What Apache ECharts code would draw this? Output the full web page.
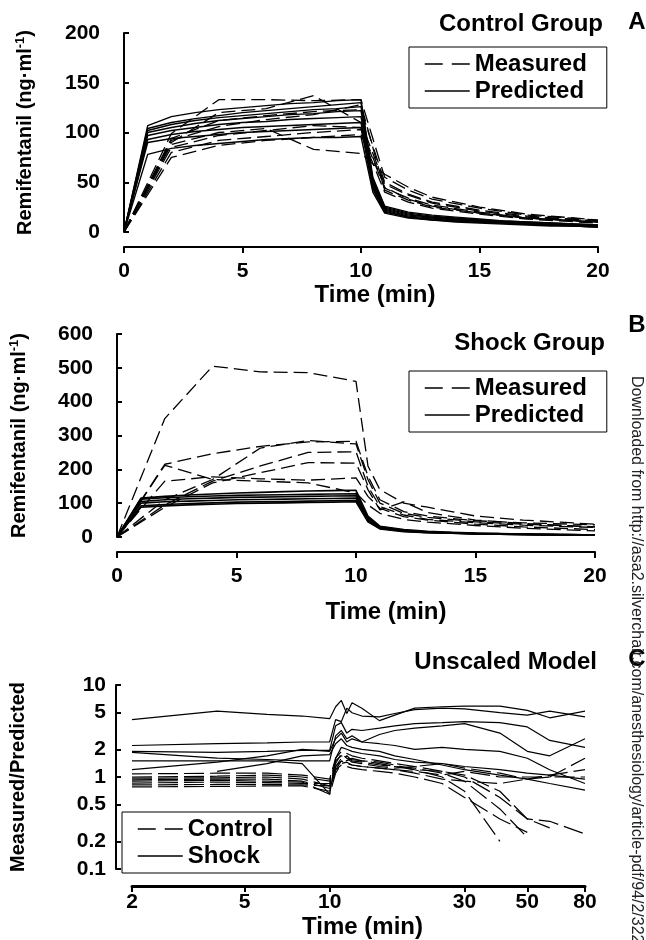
<!DOCTYPE html>
<html>
<head>
<meta charset="utf-8">
<script src="https://cdn.jsdelivr.net/npm/echarts@6/dist/echarts.min.js"></script>
<style>
  html, body { margin: 0; padding: 0; background: #fff; }
  #chart { width: 646px; height: 940px; }
</style>
</head>
<body>
<div id="chart"></div>
<script>
// ---------- Panel A: control group, remifentanil concentration (ng/ml) ----------
const timeMeasuredA = [0, 2, 4, 6, 8, 10, 11, 12, 13, 15, 17, 20];
const measuredA = [
  [0, 99, 133, 133, 132, 133, 55, 42, 33, 24, 17, 12],
  [0, 90, 120, 124, 137, 110, 48, 37, 29, 21, 15, 11],
  [0, 88, 100, 104, 83, 79, 58, 45, 35, 25, 18, 12],
  [0, 85, 97, 102, 107, 105, 45, 33, 26, 19, 14, 10],
  [0, 80, 92, 96, 100, 103, 44, 34, 27, 20, 14, 10],
  [0, 94, 112, 117, 121, 123, 50, 38, 30, 22, 16, 11],
  [0, 75, 87, 92, 95, 98, 40, 30, 24, 18, 13, 9],
  [0, 92, 106, 113, 118, 128, 42, 32, 25, 19, 14, 10]
];
const timePredicted = [0, 1, 2, 3, 4, 5, 6, 7, 8, 9, 10, 10.5, 11, 12, 13, 14, 15, 16, 17, 18, 19, 20];
const predictedA = [
  [0, 107, 116, 120, 123, 125, 127, 129, 130, 132, 133, 55, 26, 20, 17, 15, 13, 11, 10, 9, 8, 7],
  [0, 104, 110, 114, 117, 120, 122, 124, 126, 128, 130, 53, 25, 19, 16, 14, 12, 11, 10, 9, 8, 7],
  [0, 102, 108, 112, 115, 117, 119, 121, 123, 124, 126, 51, 24, 18, 15, 13, 12, 10, 9, 8, 7, 6],
  [0, 100, 105, 109, 112, 114, 116, 118, 119, 121, 122, 49, 23, 17, 15, 13, 11, 10, 9, 8, 7, 6],
  [0, 97, 102, 105, 108, 110, 111, 113, 114, 115, 116, 47, 22, 16, 14, 12, 11, 9, 8, 7, 7, 6],
  [0, 93, 98, 101, 103, 105, 106, 107, 108, 109, 110, 45, 21, 15, 13, 11, 10, 9, 8, 7, 6, 5],
  [0, 90, 94, 96, 98, 100, 101, 102, 103, 104, 105, 43, 20, 15, 12, 11, 10, 9, 8, 7, 6, 5],
  [0, 78, 84, 87, 89, 91, 93, 94, 95, 95, 96, 40, 19, 14, 12, 10, 9, 8, 7, 6, 6, 5]
];

// ---------- Panel B: shock group ----------
const timeMeasuredB = [0, 2, 4, 6, 8, 10, 10.5, 11, 12, 13, 15, 17, 20];
const measuredB = [
  [0, 350, 505, 488, 486, 460, 210, 140, 100, 88, 62, 50, 38],
  [0, 215, 246, 268, 281, 283, 180, 110, 75, 62, 48, 42, 36],
  [0, 110, 170, 263, 285, 275, 170, 100, 70, 58, 45, 38, 30],
  [0, 95, 165, 210, 250, 252, 150, 90, 65, 52, 42, 35, 28],
  [0, 212, 170, 165, 160, 130, 95, 70, 52, 44, 34, 26, 18],
  [0, 165, 178, 172, 168, 175, 120, 85, 60, 50, 38, 30, 22],
  [0, 88, 160, 190, 220, 218, 140, 80, 104, 72, 50, 40, 30]
];
const predictedB = [
  [0, 115, 120, 124, 127, 130, 132, 134, 136, 137, 138, 62, 32, 22, 17, 14, 12, 10, 9, 8, 7, 6],
  [0, 112, 116, 119, 121, 123, 124, 125, 126, 127, 128, 57, 30, 20, 15, 13, 11, 10, 9, 8, 7, 6],
  [0, 105, 110, 113, 115, 117, 118, 119, 120, 121, 122, 54, 28, 19, 15, 12, 10, 9, 8, 7, 6, 5],
  [0, 100, 104, 106, 108, 110, 111, 112, 113, 114, 115, 50, 26, 18, 14, 12, 10, 9, 8, 7, 6, 5],
  [0, 92, 96, 99, 101, 103, 104, 105, 106, 107, 108, 47, 25, 17, 13, 11, 9, 8, 7, 6, 6, 5],
  [0, 88, 92, 95, 97, 99, 100, 101, 102, 103, 104, 45, 24, 16, 13, 11, 9, 8, 7, 6, 5, 5]
];

// ---------- Panel C: measured / predicted ratio, unscaled model ----------
const timeRatio = [2, 4, 6, 8, 10, 10.5, 11, 11.5, 12, 13, 15, 17, 20, 25, 30, 40, 50, 60, 80];
const ratioControl = [
  [1.08, 1.1, 1.1, 1.05, 0.95, 1.6, 1.9, 1.8, 1.7, 1.6, 1.5, 1.4, 1.3, 1.15, 1.0, 0.6, 0.35, 0.33, 0.24],
  [1.0, 1.02, 1.05, 1.0, 0.9, 1.5, 1.7, 1.6, 1.55, 1.5, 1.45, 1.35, 1.2, 1.0, 0.7, 0.2, null, null, null],
  [0.97, 0.98, 1.0, 0.95, 0.8, 1.3, 1.6, 1.5, 1.6, 1.5, 1.4, 1.3, 1.25, 1.1, 0.9, 0.45, 0.22, null, null],
  [0.93, 0.95, 0.95, 0.9, 0.75, 1.2, 1.5, 1.7, 1.5, 1.45, 1.35, 1.3, 1.2, 1.15, 1.05, 0.7, 0.35, 0.28, null],
  [0.9, 0.92, 0.9, 0.88, 0.65, 1.1, 1.4, 1.45, 1.35, 1.3, 1.25, 1.2, 1.15, 1.05, 1.15, 1.0, 1.0, 1.0, 1.6],
  [0.86, 0.88, 0.87, 0.85, 0.85, 1.4, 1.8, 1.6, 1.45, 1.4, 1.3, 1.25, 1.3, 1.4, 1.25, 1.1, 0.95, 1.05, 1.2],
  [0.82, 0.83, 0.83, 0.82, 0.8, 1.3, 1.5, 1.4, 1.35, 1.3, 1.25, 1.2, 1.1, 0.95, 0.9, 0.85, 0.95, 1.0, 1.0],
  [0.78, 0.79, 0.8, 0.8, 0.7, 1.2, 1.35, 1.3, 1.25, 1.2, 1.15, 1.1, 1.0, 0.85, 0.6, 0.35, 0.25, null, null]
];
const ratioShock = [
  [4.2, 5.2, 4.8, 4.6, 4.3, 5.8, 6.8, 4.9, 6.4, 5.6, 4.1, 4.7, 5.6, 5.8, 5.9, 5.9, 5.3, 4.4, 5.2],
  [2.2, 2.3, 2.35, 2.4, 2.4, 4.2, 4.0, 5.6, 5.0, 4.6, 4.5, 4.9, 5.4, 5.6, 5.5, 5.0, 4.7, 5.2, 4.5],
  [1.9, 1.85, 1.9, 1.95, 1.95, 3.6, 3.9, 3.0, 3.3, 3.2, 3.4, 3.6, 3.8, 3.9, 4.0, 3.9, 3.5, 2.5, 2.1],
  [1.85, 1.6, 1.55, 1.5, 1.5, 2.8, 3.2, 2.6, 2.8, 2.4, 2.9, 3.2, 3.4, 3.6, 3.8, 3.0, 1.9, 1.7, 2.6],
  [1.2, 1.45, 1.7, 2.0, 1.9, 2.6, 3.0, 2.4, 2.6, 2.4, 2.3, 2.2, 2.0, 2.1, 2.0, 1.9, 1.6, 1.2, 0.85],
  [1.5, 1.5, 1.5, 1.4, 0.65, 1.6, 2.1, 2.0, 1.9, 1.8, 1.7, 1.55, 1.45, 1.4, 1.3, 1.2, 1.1, 1.05, 0.95],
  [null, 1.15, 1.4, 1.7, 1.75, 2.3, 2.6, 2.2, 2.1, 2.0, 1.9, 1.7, 1.55, 1.35, 1.2, 1.05, 0.95, 0.85, 0.72]
];

// Axis tick values
const ticksTime = [0, 5, 10, 15, 20];
const ticksRatio = [0.1, 0.2, 0.5, 1, 2, 5, 10];
const ticksRatioTime = [2, 5, 10, 30, 50, 80];

const FONT = '"Liberation Sans", Arial, Helvetica, sans-serif';
const INK = '#000';

function pairs(times, values) {
  return times.map((t, i) => [t, values[i] == null ? null : values[i]]);
}

function lineSeries(name, times, values, axisIdx, dashed, width) {
  return {
    type: 'line',
    name: name,
    xAxisIndex: axisIdx,
    yAxisIndex: axisIdx,
    data: pairs(times, values),
    symbol: 'none',
    showSymbol: false,
    connectNulls: false,
    silent: true,
    color: INK,
    itemStyle: { color: INK },
    lineStyle: { color: INK, width: width, type: dashed ? dashed : 'solid' },
    z: dashed ? 3 : 2
  };
}

const series = [];
measuredA.forEach(v => series.push(lineSeries('Measured', timeMeasuredA, v, 0, [14, 6], 1.3)));
predictedA.forEach(v => series.push(lineSeries('Predicted', timePredicted, v, 0, null, 1.4)));
measuredB.forEach(v => series.push(lineSeries('Measured', timeMeasuredB, v, 1, [14, 6], 1.3)));
predictedB.forEach(v => series.push(lineSeries('Predicted', timePredicted, v, 1, null, 1.6)));
ratioControl.forEach(v => series.push(lineSeries('Control', timeRatio, v, 2, [20, 6], 1.2)));
ratioShock.forEach(v => series.push(lineSeries('Shock', timeRatio, v, 2, null, 1.2)));

const tickLabel = { color: INK, fontFamily: FONT, fontWeight: 'bold', fontSize: 21 };
const axisNameStyle = {
  color: INK, fontFamily: FONT, fontWeight: 'bold', fontSize: 24
};
const yNameStyle = {
  color: INK, fontFamily: FONT, fontWeight: 'bold', fontSize: 20,
  rich: {
    sup: { color: INK, fontFamily: FONT, fontWeight: 'bold', fontSize: 13, padding: [0, 0, 9, 0] }
  }
};

function timeAxis(grid, gap, shift) {
  return {
    gridIndex: grid, type: 'value', min: 0, max: 20, interval: 5, offset: 15,
    axisLine: { show: true, onZero: false, lineStyle: { color: INK, width: 2 } },
    axisTick: { show: true, inside: false, length: 6, lineStyle: { color: INK, width: 2 } },
    splitLine: { show: false },
    axisLabel: Object.assign({ margin: 14 }, tickLabel),
    name: 'Time (min)', nameLocation: 'middle', nameGap: gap,
    nameTextStyle: Object.assign({ padding: [0, 0, 0, shift] }, axisNameStyle)
  };
}

function concAxis(grid, max, step, gap) {
  return {
    gridIndex: grid, type: 'value', min: 0, max: max, interval: step, offset: 14,
    axisLine: { show: true, lineStyle: { color: INK, width: 2 } },
    axisTick: { show: true, inside: true, length: 5, lineStyle: { color: INK, width: 2 } },
    splitLine: { show: false },
    axisLabel: Object.assign({ margin: 10 }, tickLabel),
    name: 'Remifentanil (ng·ml{sup|-1})', nameLocation: 'middle', nameGap: gap,
    nameTextStyle: yNameStyle
  };
}

function legendBox(left, top, names, padRight, dashFirst) {
  return {
    left: left, top: top, orient: 'vertical', selectedMode: false,
    data: [
      { name: names[0], lineStyle: { type: dashFirst, width: 1.5, color: INK } },
      { name: names[1], lineStyle: { type: 'solid', width: 1.5, color: INK } }
    ],
    itemWidth: 45, itemHeight: 14, itemGap: 3,
    itemStyle: { opacity: 0 },
    padding: [5, padRight, 5, 15],
    borderColor: INK, borderWidth: 1, backgroundColor: '#fff',
    textStyle: { color: INK, fontFamily: FONT, fontWeight: 'bold', fontSize: 24, lineHeight: 24 }
  };
}

function heading(text, x, y, align) {
  return {
    type: 'text', x: x, y: y, silent: true,
    style: { text: text, fill: INK, font: 'bold 24px ' + FONT, align: align, verticalAlign: 'middle' }
  };
}

const option = {
  animation: false,
  backgroundColor: '#fff',
  grid: [
    { left: 124, right: 48, top: 33, height: 199 },
    { left: 114, right: 51, top: 334, height: 203 },
    { left: 112, right: 61, top: 685, height: 185 }
  ],
  xAxis: [
    timeAxis(0, 30, 28),
    timeAxis(1, 48, 60),
    {
      gridIndex: 2, type: 'log', logBase: 10, min: 2, max: 80, offset: 17,
      axisLine: { show: true, onZero: false, lineStyle: { color: INK, width: 3 } },
      axisTick: { show: true, inside: false, length: 6, customValues: ticksRatioTime, lineStyle: { color: INK, width: 2 } },
      splitLine: { show: false }, minorTick: { show: false },
      axisLabel: Object.assign({ margin: 6, customValues: ticksRatioTime, formatter: v => String(+v.toPrecision(3)) }, tickLabel),
      name: 'Time (min)', nameLocation: 'middle', nameGap: 29,
      nameTextStyle: Object.assign({ padding: [0, 0, 0, 8] }, axisNameStyle)
    }
  ],
  yAxis: [
    concAxis(0, 200, 50, 74),
    concAxis(1, 600, 100, 73),
    {
      gridIndex: 2, type: 'log', logBase: 10, min: 0.1, max: 10, offset: 16,
      axisLine: { show: true, lineStyle: { color: INK, width: 2 } },
      axisTick: { show: true, inside: true, length: 5, customValues: ticksRatio, lineStyle: { color: INK, width: 2 } },
      splitLine: { show: false }, minorTick: { show: false },
      axisLabel: Object.assign({ margin: 10, customValues: ticksRatio, formatter: v => String(+v.toPrecision(3)) }, tickLabel),
      name: 'Measured/Predicted', nameLocation: 'middle', nameGap: 68,
      nameTextStyle: Object.assign({ padding: [0, 0, 20, 0] }, yNameStyle)
    }
  ],
  legend: [
    legendBox(409, 47, ['Measured', 'Predicted'], 20, [18, 9]),
    legendBox(409, 371, ['Measured', 'Predicted'], 20, [18, 9]),
    legendBox(122, 812, ['Control', 'Shock'], 17, [18, 9])
  ],
  graphic: [
    heading('Control Group', 603, 24, 'right'),
    heading('A', 637, 22, 'center'),
    heading('Shock Group', 605, 343, 'right'),
    heading('B', 637, 325, 'center'),
    heading('Unscaled Model', 597, 662, 'right'),
    heading('C', 637, 659, 'center'),
    {
      type: 'text', x: 636, y: 376, rotation: -Math.PI / 2, silent: true,
      style: {
        text: 'Downloaded from http://asa2.silverchair.com/anesthesiology/article-pdf/94/2/322',
        fill: '#222', font: '16px ' + FONT, align: 'left', verticalAlign: 'middle'
      }
    }
  ],
  series: series
};

echarts.init(document.getElementById('chart'), null, { renderer: 'canvas' }).setOption(option);
</script>
</body>
</html>
